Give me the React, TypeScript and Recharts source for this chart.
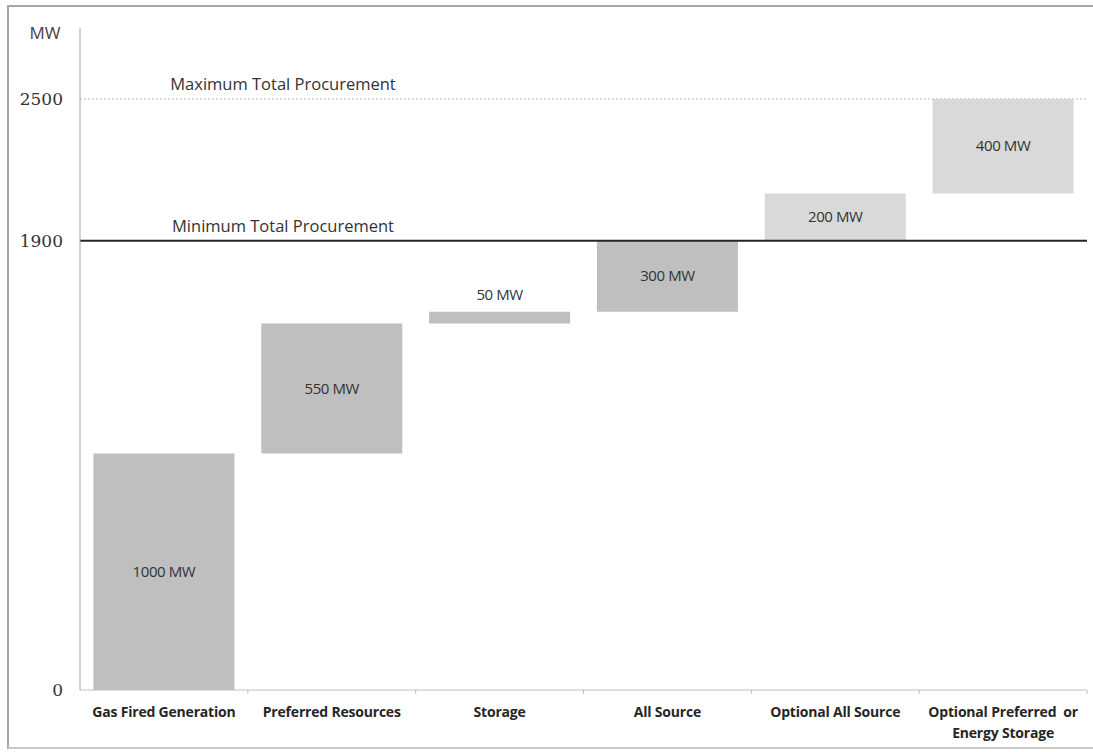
import React from 'react';
import { BarChart, Bar, XAxis, YAxis, ReferenceLine, Cell, LabelList } from 'recharts';

const categories = [
  'Gas Fired Generation',
  'Preferred Resources',
  'Storage',
  'All Source',
  'Optional All Source',
  'Optional Preferred  or\nEnergy Storage',
];
const baseValues = [0, 1000, 1550, 1600, 1900, 2100];
const stepValues = [1000, 550, 50, 300, 200, 400];
const optionalFlags = [false, false, false, false, true, true];
const yTicks = [0, 1900, 2500];
const maxProcurement = 2500;
const minProcurement = 1900;

const data = categories.map((name, i) => ({
  name,
  base: baseValues[i],
  value: stepValues[i],
  optional: optionalFlags[i],
}));

const DARK = '#bfbfbf';
const LIGHT = '#d9d9d9';
const SANS = '"Open Sans", "Liberation Sans", sans-serif';

const XTick = (props: any) => {
  const { x, y, payload } = props;
  const lines = String(payload.value).split('\n');
  const half = payload.offset ?? 84;
  return (
    <g>
      <line x1={x + half} x2={x + half} y1={y - 8} y2={y - 4} stroke="#bfbfbf" strokeWidth={1} />
      {lines.map((l, i) => (
        <text
          key={i}
          x={x}
          y={y + 19 + i * 21}
          textAnchor="middle"
          fontFamily={SANS}
          fontWeight={700}
          fontSize={14}
          letterSpacing={-0.2}
          fill="#262626"
          style={{ whiteSpace: 'pre' }}
        >
          {l}
        </text>
      ))}
    </g>
  );
};

const YTick = (props: any) => {
  const { y, payload } = props;
  return (
    <text
      x={63}
      y={y + 6}
      textAnchor="end"
      fontFamily='"DejaVu Serif", "Liberation Serif", serif'
      fontSize={17}
      fill="#333"
    >
      {payload.value}
    </text>
  );
};

const ValueLabel = (props: any) => {
  const { x, y, width, height, value } = props;
  const small = height < 20;
  const ty = small ? y - 12 : y + height / 2 + 5;
  return (
    <text
      x={x + width / 2}
      y={ty}
      textAnchor="middle"
      fontFamily={SANS}
      fontSize={15}
      fill="#333"
      letterSpacing={-0.4}
    >
      {`${value} MW`}
    </text>
  );
};

const lineLabel = (text: string) => (props: any) => {
  const { viewBox } = props;
  return (
    <text
      x={viewBox.x + 203}
      y={viewBox.y - 9}
      textAnchor="middle"
      fontFamily={SANS}
      fontSize={16.5}
      fill="#333"
    >
      {text}
    </text>
  );
};

export default function App() {
  return (
    <div style={{ position: 'absolute', left: 0, top: 0, width: 1093, height: 752, background: '#fff', overflow: 'hidden' }}>
      <div
        style={{
          position: 'absolute',
          left: 7,
          top: 5,
          width: 1100,
          height: 740,
          borderTop: '2px solid #a6a6a6',
          borderLeft: '2px solid #a6a6a6',
          borderBottom: '2px solid #c8c8c8',
        }}
      />
      <div style={{ position: 'absolute', left: 0, top: 0 }}>
        <BarChart
          width={1093}
          height={752}
          data={data}
          margin={{ top: 28, right: 6, bottom: 12, left: 0 }}
          barCategoryGap="8%"
        >
          <XAxis
            dataKey="name"
            height={50}
            axisLine={{ stroke: '#bfbfbf' }}
            tickLine={false}
            tick={<XTick />}
            interval={0}
          />
          <YAxis
            width={80}
            domain={[0, 2800]}
            ticks={yTicks}
            axisLine={{ stroke: '#a6a6a6' }}
            tickLine={false}
            tick={<YTick />}
            label={(p: any) => (
              <text x={45} y={39} textAnchor="middle" fontFamily={SANS} fontSize={17} fill="#444">
                MW
              </text>
            )}
          />
          <ReferenceLine
            y={maxProcurement}
            stroke="#cfcfcf"
            strokeWidth={1.5}
            strokeDasharray="2 2"
            label={lineLabel('Maximum Total Procurement')}
          />
          <ReferenceLine
            y={minProcurement}
            stroke="#262626"
            strokeWidth={2}
            label={lineLabel('Minimum Total Procurement')}
          />
          <Bar dataKey="base" stackId="w" fill="transparent" isAnimationActive={false} />
          <Bar dataKey="value" stackId="w" isAnimationActive={false}>
            {data.map((d, i) => (
              <Cell key={i} fill={d.optional ? LIGHT : DARK} />
            ))}
            <LabelList dataKey="value" content={<ValueLabel />} />
          </Bar>
        </BarChart>
      </div>
    </div>
  );
}
